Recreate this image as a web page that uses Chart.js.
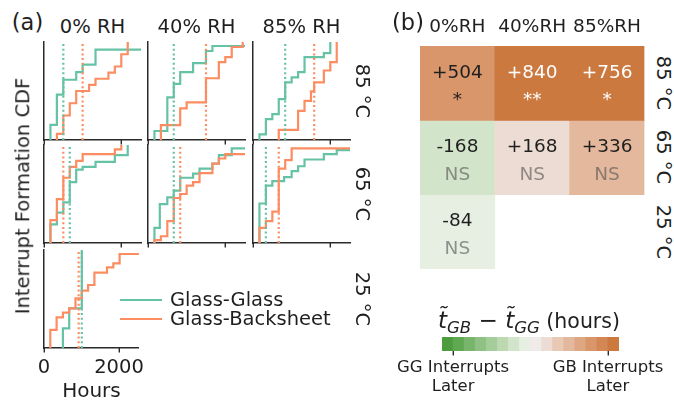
<!DOCTYPE html>
<html>
<head>
<meta charset="utf-8">
<script src="https://cdn.jsdelivr.net/npm/chart.js@4.4.1/dist/chart.umd.min.js"></script>
<style>
  html, body { margin: 0; padding: 0; background: #fff; overflow: hidden; }
  #fig { position: relative; width: 674px; height: 402px; overflow: hidden; background: #fff; }
  .cv { position: absolute; }
  .t { position: absolute; white-space: nowrap; line-height: 1; color: #1f1f1f;
       font-family: "DejaVu Sans", sans-serif; }
  .key { position: absolute; height: 2.2px; }
  .m { font-size: 23px; }
  .sub { font-style: italic; font-size: 0.72em; position: relative; top: 0.28em; }
</style>
</head>
<body>
<div id="fig"></div>
<script>
// ---------------- data ----------------
const rhHeaders  = ['0% RH', '40% RH', '85% RH'];
const rhShort    = ['0%RH', '40%RH', '85%RH'];
const tempLabels = ['85 °C', '65 °C', '25 °C'];
const xTickValues = [0, 2000];
const HOURS_MAX = 2530;

// CDF steps [hours, fraction failed]; GG = Glass-Glass, GB = Glass-Backsheet
const gg_85C_0RH  = [[168, 0.154], [336, 0.462], [504, 0.615], [840, 0.692], [1008, 0.769], [1344, 0.923]];
const gb_85C_0RH  = [[336, 0.0625], [504, 0.25], [672, 0.375], [840, 0.5], [1176, 0.5625], [1344, 0.625],
                     [1680, 0.6875], [1848, 0.75], [2016, 0.875], [2184, 1.0]];
const gg_85C_40RH = [[168, 0.092], [504, 0.435], [672, 0.572], [840, 0.692], [1176, 0.784], [1512, 0.908], [1680, 0.959]];
const gb_85C_40RH = [[336, 0.151], [840, 0.322], [1008, 0.384], [1512, 0.63], [1848, 0.795], [2016, 0.846],
                     [2184, 0.949], [2470, 1.0]];
const gg_85C_85RH = [[168, 0.058], [336, 0.212], [504, 0.264], [672, 0.418], [840, 0.589], [1008, 0.64],
                     [1176, 0.692], [1344, 0.846], [1848, 0.887], [2016, 1.0]];
const gb_85C_85RH = [[672, 0.103], [1176, 0.298], [1344, 0.4], [1512, 0.496], [1596, 0.589], [1848, 0.709],
                     [2016, 0.795], [2184, 1.0]];
const gg_65C_0RH  = [[168, 0.19], [336, 0.31], [504, 0.414], [672, 0.621], [840, 0.748], [1008, 0.776],
                     [1344, 0.828], [1848, 0.897], [2184, 1.0]];
const gb_65C_0RH  = [[168, 0.234], [336, 0.448], [504, 0.666], [672, 0.776], [840, 0.838], [1008, 0.907],
                     [1848, 0.955], [2016, 1.0]];
const gg_65C_40RH = [[168, 0.155], [308, 0.397], [504, 0.466], [672, 0.534], [840, 0.666], [1176, 0.707],
                     [1344, 0.759], [1680, 0.81], [1848, 0.897], [2184, 0.966]];
const gb_65C_40RH = [[168, 0.03], [336, 0.069], [504, 0.224], [672, 0.459], [840, 0.5], [1008, 0.586],
                     [1176, 0.621], [1344, 0.714], [1680, 0.81], [1848, 0.862], [2016, 0.907]];
const gg_65C_85RH = [[168, 0.403], [336, 0.586], [504, 0.631], [812, 0.672], [1008, 0.734], [1176, 0.783],
                     [1344, 0.852], [1848, 0.907], [2184, 0.948]];
const gb_65C_85RH = [[168, 0.155], [336, 0.224], [504, 0.321], [672, 0.759], [840, 0.845], [1008, 0.966]];
const gg_25C_0RH  = [[504, 0.2], [672, 0.405], [1008, 1.0]];
const gb_25C_0RH  = [[168, 0.184], [336, 0.313], [504, 0.361], [672, 0.405], [840, 0.507], [1008, 0.585],
                     [1176, 0.643], [1344, 0.769], [1680, 0.823], [1848, 0.864], [2016, 0.959]];

// median interrupt times (hours), one entry per RH column
const medianGG_85C = [504, 672, 840];
const medianGB_85C = [1008, 1512, 1596];
const medianGG_65C = [672, 672, 336];
const medianGB_65C = [504, 840, 672];
const medianGG_25C = [1008];
const medianGB_25C = [924];

// median difference t_GB - t_GG (hours) and significance per cell
const diff_85C = [504, 840, 756];
const diff_65C = [-168, 168, 336];
const diff_25C = [-84, null, null];
const sig_85C = ['*', '**', '*'];
const sig_65C = ['NS', 'NS', 'NS'];
const sig_25C = ['NS', null, null];

// colour bar: 16 discrete levels between -756 h and +756 h
const CB_MIN = -756, CB_MAX = 756;
const cbColors = ['#4e9c3e', '#60a852', '#77b56c', '#8fc184', '#a5cd9b', '#bcd9b2', '#d2e5cb', '#e6efe2',
                  '#f0ebe8', '#eddcd3', '#e8c9b6', '#e4b89d', '#dfa684', '#da966b', '#d48654', '#cc7940'];
const cbTickLabels = [['GG Interrupts', 'Later'], ['GB Interrupts', 'Later']];

// ---------------- styling ----------------
const GREEN = '#66c2a5', ORANGE = '#fc8d62', INK = '#1f1f1f', SPINE = '#2a2a2a';
const colLeft = [44, 148, 253];
const rowTop = [42, 145, 250];
const PLOT_W = 97, PLOT_H = 98;

Chart.defaults.font.family = '"DejaVu Sans", sans-serif';
Chart.defaults.color = INK;
Chart.defaults.animation = false;

const fig = document.getElementById('fig');

function addCanvas(left, top, width, height) {
  const c = document.createElement('canvas');
  c.className = 'cv';
  c.width = width; c.height = height;
  Object.assign(c.style, { left: left + 'px', top: top + 'px', width: width + 'px', height: height + 'px' });
  fig.appendChild(c);
  return c;
}

function addText(html, x, y, size, opts = {}) {
  const d = document.createElement('div');
  d.className = 't';
  d.innerHTML = html;
  d.style.left = x + 'px';
  d.style.top = y + 'px';
  d.style.fontSize = size + 'px';
  const ax = opts.anchor === 'left' ? '0' : '-50%';
  d.style.transform = `translate(${ax}, -50%)` + (opts.rot ? ` rotate(${opts.rot}deg)` : '');
  if (opts.anchor === 'left') d.style.transformOrigin = 'left center';
  fig.appendChild(d);
  return d;
}

// step CDF: vertical rise at each interrupt; unfinished curves run on to the end of the test
function cdfPoints(steps) {
  const pts = [{ x: steps[0][0], y: 0 }];
  steps.forEach(([t, f]) => pts.push({ x: t, y: f }));
  const last = steps[steps.length - 1];
  if (last[1] < 1) pts.push({ x: HOURS_MAX, y: last[1] });
  return pts;
}

function medianLine(x, color) {
  return { data: [{ x, y: 0 }, { x, y: 1 }], borderColor: color, borderWidth: 2.2,
           borderDash: [2, 2.7], order: 0 };
}

// short outward tick marks under the x axis, one per x-scale tick
const outwardTicks = {
  id: 'outwardTicks',
  afterDraw(chart) {
    const s = chart.scales.x;
    const ctx = chart.ctx;
    ctx.save();
    ctx.strokeStyle = SPINE;
    ctx.lineWidth = 1.4;
    s.ticks.forEach(t => {
      const x = Math.round(s.getPixelForValue(t.value)) + 0.3;
      ctx.beginPath();
      ctx.moveTo(x, s.top);
      ctx.lineTo(x, s.top + 4.5);
      ctx.stroke();
    });
    ctx.restore();
  }
};

function drawPanel(r, c, gg, gb, mGG, mGB, labelled) {
  const padL = 14, padT = 3, padR = 8;
  const axisH = labelled ? 56 : 8;
  const canvas = addCanvas(colLeft[c] - padL, rowTop[r] - padT, padL + PLOT_W + padR, padT + PLOT_H + axisH);
  new Chart(canvas, {
    type: 'line',
    data: {
      datasets: [
        medianLine(mGG, GREEN),
        medianLine(mGB, ORANGE),
        { label: 'Glass-Backsheet', data: cdfPoints(gb), borderColor: ORANGE, borderWidth: 2.2, stepped: 'before', order: 1 },
        { label: 'Glass-Glass', data: cdfPoints(gg), borderColor: GREEN, borderWidth: 2.2, stepped: 'before', order: 2 }
      ]
    },
    options: {
      responsive: false, animation: false, events: [],
      layout: { padding: { left: padL - 4, top: padT, right: padR, bottom: 0 } },
      elements: { point: { radius: 0 }, line: { tension: 0, fill: false, borderCapStyle: 'butt', borderJoinStyle: 'miter' } },
      plugins: { legend: { display: false }, tooltip: { enabled: false } },
      scales: {
        x: {
          type: 'linear', min: 0, max: HOURS_MAX, offset: false,
          afterBuildTicks: s => { s.ticks = xTickValues.map(v => ({ value: v })); },
          afterFit: s => { s.height = axisH; },
          grid: { display: false, drawTicks: true, tickLength: 4.5 },
          border: { display: true, color: SPINE, width: 1.5 },
          ticks: { display: labelled, autoSkip: false, maxRotation: 0, padding: 3.5, font: { size: 19.5 }, color: INK,
                   callback: v => String(v) },
          title: { display: labelled, text: 'Hours', font: { size: 20 }, color: INK, padding: { top: 0, bottom: 0 } }
        },
        y: {
          type: 'linear', min: 0, max: 1,
          afterFit: s => { s.width = 4; },
          grid: { display: false },
          border: { display: true, color: SPINE, width: 1.5 },
          ticks: { display: false }
        }
      }
    },
    plugins: [outwardTicks]
  });
}

// ---------------- panel (a) ----------------
const ggRows = [[gg_85C_0RH, gg_85C_40RH, gg_85C_85RH], [gg_65C_0RH, gg_65C_40RH, gg_65C_85RH], [gg_25C_0RH]];
const gbRows = [[gb_85C_0RH, gb_85C_40RH, gb_85C_85RH], [gb_65C_0RH, gb_65C_40RH, gb_65C_85RH], [gb_25C_0RH]];
const medGG = [medianGG_85C, medianGG_65C, medianGG_25C];
const medGB = [medianGB_85C, medianGB_65C, medianGB_25C];
ggRows.forEach((row, r) => row.forEach((gg, c) => {
  drawPanel(r, c, gg, gbRows[r][c], medGG[r][c], medGB[r][c], r === 2 && c === 0);
}));

addText('(a)', 27.5, 22, 22.5);
rhHeaders.forEach((h, c) => addText(h, colLeft[c] + PLOT_W / 2, 26.5, 19.5));
tempLabels.forEach((t, r) => addText(t, 362, rowTop[r] + PLOT_H / 2, 19.5, { rot: 90 }));
addText('Interrupt Formation CDF', 23, 196, 19.5, { rot: -90 });

// legend
[['Glass-Glass', GREEN, 300], ['Glass-Backsheet', ORANGE, 319]].forEach(([name, col, y]) => {
  const k = document.createElement('div');
  k.className = 'key';
  Object.assign(k.style, { left: '120px', top: (y - 1.1) + 'px', width: '42px', background: col });
  fig.appendChild(k);
  addText(name, 170, y, 19.5, { anchor: 'left' });
});

// ---------------- panel (b) ----------------
const heatDiffs = [diff_85C, diff_65C, diff_25C];
const heatSig = [sig_85C, sig_65C, sig_25C];
const binW = (CB_MAX - CB_MIN) / cbColors.length;
function binIndex(v) {
  return Math.max(0, Math.min(cbColors.length - 1, Math.floor((v - CB_MIN) / binW)));
}

const cellLabels = {
  id: 'cellLabels',
  afterDatasetsDraw(chart) {
    const ctx = chart.ctx;
    ctx.save();
    ctx.textAlign = 'center';
    ctx.textBaseline = 'alphabetic';
    ctx.font = '18.5px "DejaVu Sans"';
    chart.data.datasets.forEach((ds, r) => {
      chart.getDatasetMeta(r).data.forEach((bar, c) => {
        const v = heatDiffs[r][c];
        if (v === null) return;
        const cy = (bar.y + bar.base) / 2;
        const dark = binIndex(v) >= 14;
        ctx.fillStyle = dark ? '#ffffff' : INK;
        ctx.fillText((v > 0 ? '+' : '') + v, bar.x, cy - 5.5);
        const s = heatSig[r][c];
        ctx.fillStyle = s === 'NS' ? 'rgba(80,80,80,0.6)' : (dark ? '#ffffff' : INK);
        ctx.fillText(s, bar.x, cy + 22);
      });
    });
    ctx.restore();
  }
};

const heatCanvas = addCanvas(420, 0, 229, 269);
new Chart(heatCanvas, {
  type: 'bar',
  data: {
    labels: rhShort,
    datasets: heatDiffs.map((vals, r) => ({
      label: tempLabels[r],
      data: vals.map(v => (v === null ? null : [r, r + 1])),
      backgroundColor: vals.map(v => (v === null ? 'rgba(0,0,0,0)' : cbColors[binIndex(v)])),
      grouped: false, barPercentage: 1, categoryPercentage: 1, borderWidth: 0
    }))
  },
  options: {
    responsive: false, animation: false, events: [],
    layout: { padding: 0 },
    plugins: { legend: { display: false }, tooltip: { enabled: false } },
    scales: {
      x: {
        position: 'top',
        grid: { display: false, drawTicks: false },
        border: { display: false },
        ticks: { font: { size: 18.5 }, color: INK, padding: 8 },
        afterFit: s => { s.height = 46; }
      },
      y: { display: false, min: 0, max: 3, reverse: true }
    }
  },
  plugins: [cellLabels]
});

addText('(b)', 408, 22, 22.5);
tempLabels.forEach((t, r) => addText(t, 662.5, 46 + 74.3 * (r + 0.5), 19.5, { rot: 90 }));

// colour bar
const cbCanvas = addCanvas(390, 330, 284, 72);
new Chart(cbCanvas, {
  type: 'bar',
  data: {
    datasets: [{
      data: cbColors.map((_, i) => ({ x: CB_MIN + (i + 0.5) * binW, y: 1 })),
      backgroundColor: cbColors, barPercentage: 1, categoryPercentage: 1, borderWidth: 0
    }]
  },
  options: {
    responsive: false, animation: false, events: [],
    layout: { padding: { left: 52, right: 55, top: 7, bottom: 0 } },
    plugins: { legend: { display: false }, tooltip: { enabled: false } },
    scales: {
      x: {
        type: 'linear', min: CB_MIN, max: CB_MAX, offset: false,
        afterBuildTicks: s => { s.ticks = [CB_MIN + binW, CB_MAX - binW].map(v => ({ value: v })); },
        afterFit: s => { s.height = 72 - 7 - 14; },
        grid: { display: false, offset: false, drawTicks: true, tickLength: 4.5 },
        border: { display: false },
        ticks: { autoSkip: false, maxRotation: 0, padding: 2.5, font: { size: 16.5, lineHeight: 1.15 }, color: INK,
                 callback: (v, i) => cbTickLabels[i] }
      },
      y: { display: false, min: 0, max: 1 }
    }
  },
  plugins: [outwardTicks]
});

addText('<span class="m"><i>t&#771;</i><span class="sub">GB</span> &minus; <i>t&#771;</i><span class="sub">GG</span></span> (hours)',
        529, 320, 20.5);
</script>
</body>
</html>
